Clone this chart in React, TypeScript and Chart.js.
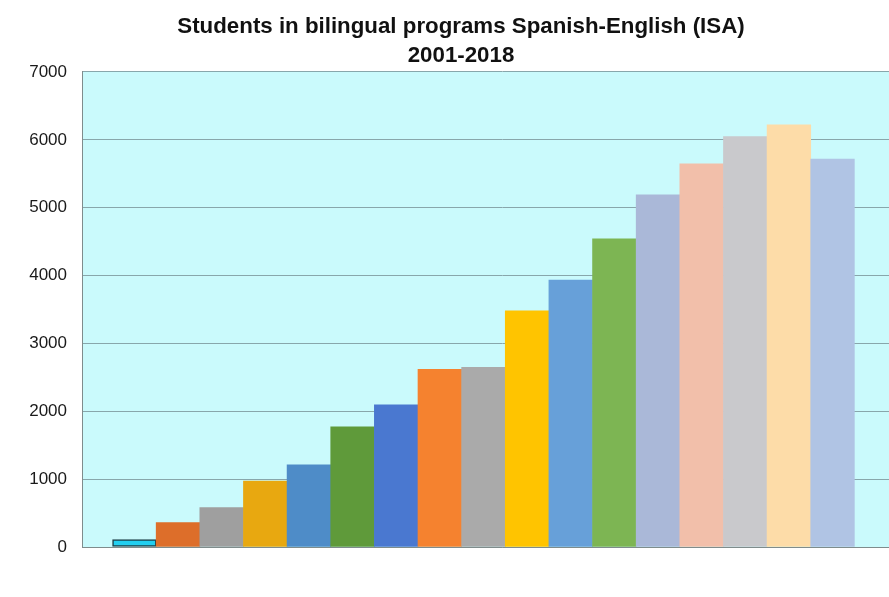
import React, { useEffect, useRef } from "react";
import { Chart, registerables } from "chart.js";

Chart.register(...registerables);

const titleLines = ["Students in bilingual programs Spanish-English (ISA)", "2001-2018"];

const schoolYears = [
  "2001-02", "2002-03", "2003-04", "2004-05", "2005-06", "2006-07", "2007-08", "2008-09",
  "2009-10", "2010-11", "2011-12", "2012-13", "2013-14", "2014-15", "2015-16", "2016-17", "2017-18",
];

const students = [
  110, 360, 580, 970, 1210, 1770, 2095, 2620, 2648, 3480, 3935, 4540, 5190, 5645, 6048, 6220, 5715,
];

const barColors = [
  "#22cff0", "#dd6e2a", "#9f9f9f", "#e8a810", "#4e8cc8", "#5f9a3a", "#4a78d0", "#f5822f", "#aaaaaa",
  "#ffc400", "#67a0d9", "#7db553", "#aab8d8", "#f2bfaa", "#c9c9cc", "#fddca8", "#b0c4e4",
];

const yMin = 0;
const yMax = 7000;
const yStep = 1000;

const plotBackground = {
  id: "plotBackground",
  beforeDraw(chart: any) {
    const { ctx, chartArea } = chart;
    ctx.save();
    ctx.fillStyle = "#cafafc";
    ctx.fillRect(chartArea.left, chartArea.top, chartArea.right - chartArea.left, chartArea.bottom - chartArea.top);
    ctx.restore();
  },
};

export default function App() {
  const canvasRef = useRef<HTMLCanvasElement | null>(null);

  useEffect(() => {
    document.body.style.margin = "0";
    const canvas = canvasRef.current;
    if (!canvas) return;
    const chart = new Chart(canvas, {
      type: "bar",
      data: {
        datasets: [
          {
            label: "Students",
            data: students.map((v, i) => ({ x: i, y: v })),
            backgroundColor: barColors,
            borderColor: "#1d3f48",
            borderWidth: (c: any) => (c.dataIndex === 0 ? 1.5 : 0),
            borderSkipped: false,
            barPercentage: 1,
            categoryPercentage: 1,
          },
        ],
      },
      plugins: [plotBackground],
      options: {
        responsive: false,
        animation: false,
        devicePixelRatio: 1,
        layout: { padding: { left: 0, right: 0, top: 0, bottom: 50 } },
        plugins: {
          legend: { display: false },
          tooltip: {
            callbacks: {
              title: (items: any[]) => schoolYears[items[0].dataIndex],
            },
          },
          title: {
            display: true,
            text: titleLines,
            color: "#111111",
            font: { family: "'Liberation Sans', Arial, sans-serif", size: 22.3, weight: "bold", lineHeight: 1.3 },
            padding: { top: 12, bottom: 2 },
          },
        },
        scales: {
          x: {
            type: "linear",
            min: -1.2,
            max: 18.05,
            offset: false,
            grid: { display: false, drawTicks: false },
            ticks: { display: false, includeBounds: false, stepSize: 1 },
            border: { display: true, color: "#7f8c8c", width: 1 },
          },
          y: {
            min: yMin,
            max: yMax,
            afterFit: (scale: any) => {
              scale.width = 82;
            },
            ticks: {
              stepSize: yStep,
              padding: 15,
              color: "#1a1a1a",
              font: { family: "'Liberation Sans', Arial, sans-serif", size: 17 },
              callback: (v: any) => String(v),
            },
            grid: { color: "#88a6ab", drawTicks: false, lineWidth: 1 },
            border: { display: true, color: "#7f8c8c", width: 1 },
          },
        },
      },
    } as any);
    return () => chart.destroy();
  }, []);

  return (
    <div style={{ width: 889, height: 597, overflow: "hidden", background: "#ffffff" }}>
      <canvas ref={canvasRef} width={922} height={597} style={{ width: 922, height: 597, display: "block" }} />
    </div>
  );
}
